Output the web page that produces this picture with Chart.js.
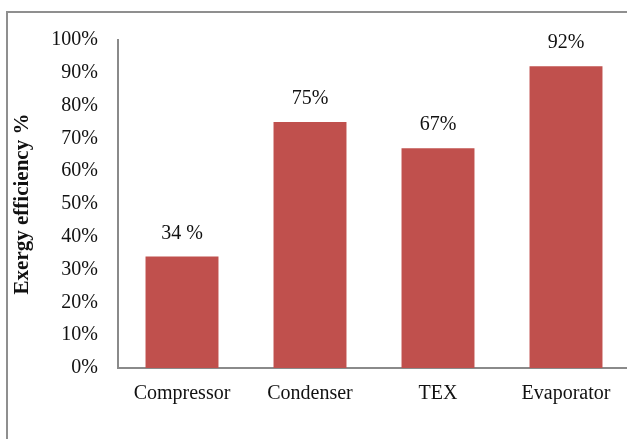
<!DOCTYPE html>
<html>
<head>
<meta charset="utf-8">
<script src="https://cdn.jsdelivr.net/npm/chart.js@4/dist/chart.umd.min.js"></script>
<style>
  html, body { margin: 0; padding: 0; overflow: hidden; background: #fff; }
  .frame {
    position: absolute; left: 6px; top: 11px; width: 800px; height: 800px;
    border-left: 2px solid #8f8f8f; border-top: 2px solid #8f8f8f;
  }
  .chart-box { position: absolute; left: 0; top: 0; width: 640px; height: 439px; }
</style>
</head>
<body>
<div class="frame"></div>
<div class="chart-box"><canvas id="myChart"></canvas></div>
<script>
const components = ['Compressor', 'Condenser', 'TEX', 'Evaporator'];
const efficiency = [34, 75, 67, 92];
const efficiencyLabels = ['34 %', '75%', '67%', '92%'];

const serif = 'Liberation Serif, Times New Roman, serif';

// value text above each bar
const barValues = {
  id: 'barValues',
  afterDatasetsDraw(chart) {
    const { ctx } = chart;
    const meta = chart.getDatasetMeta(0);
    ctx.save();
    ctx.font = '20px ' + serif;
    ctx.fillStyle = '#111';
    ctx.textAlign = 'center';
    ctx.textBaseline = 'middle';
    meta.data.forEach((bar, i) => {
      ctx.fillText(efficiencyLabels[i], bar.x, bar.y - 23);
    });
    ctx.restore();
  },
};

const ctx = document.querySelector('#myChart').getContext('2d');

new Chart(ctx, {
  type: 'bar',
  data: {
    labels: components,
    datasets: [
      {
        data: efficiency,
        backgroundColor: '#c0504d',
        borderWidth: 0,
        categoryPercentage: 1,
        barPercentage: 0.57,
      },
    ],
  },
  options: {
    responsive: true,
    maintainAspectRatio: false,
    animation: false,
    layout: { padding: { top: 40, right: 10, bottom: 0, left: 0 } },
    plugins: {
      legend: { display: false },
      tooltip: { enabled: false },
    },
    scales: {
      x: {
        grid: { display: false, drawTicks: false },
        border: { display: true, color: '#8a8a8a', width: 2 },
        ticks: {
          color: '#111',
          padding: 14,
          maxRotation: 0,
          font: { family: serif, size: 20 },
        },
        afterFit: scale => {
          scale.height = 71;
        },
      },
      y: {
        min: 0,
        max: 100,
        grid: { display: false, drawTicks: false },
        border: { display: true, color: '#8a8a8a', width: 2 },
        ticks: {
          stepSize: 10,
          color: '#111',
          padding: 20,
          font: { family: serif, size: 20 },
          callback: value => value + '%',
        },
        title: {
          display: true,
          text: 'Exergy efficiency %',
          color: '#111',
          padding: { top: 10, bottom: 0 },
          font: { family: serif, size: 21, weight: 'bold' },
        },
        afterFit: scale => {
          scale.width = 118;
        },
      },
    },
  },
  plugins: [barValues],
});
</script>
</body>
</html>
